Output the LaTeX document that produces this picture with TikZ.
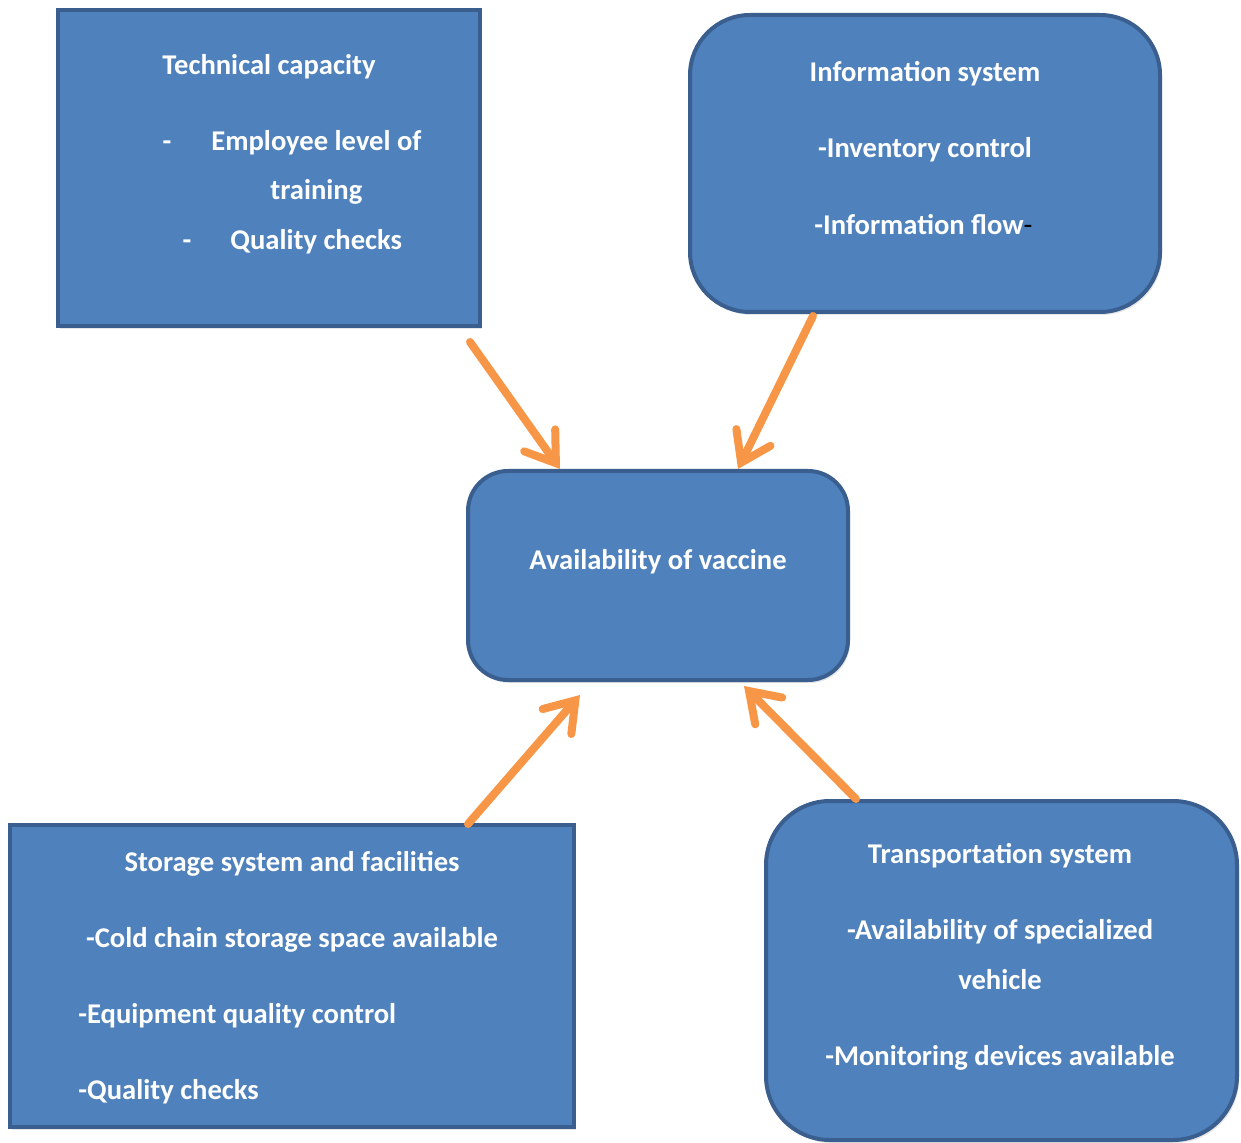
\documentclass[tikz,border=0pt]{standalone}
\usepackage{fontspec}
\setmainfont{Carlito}
\usetikzlibrary{arrows.meta,shadows}
\definecolor{boxfill}{HTML}{4F81BD}
\definecolor{boxline}{HTML}{3A5F8E}
\definecolor{arrowc}{HTML}{F79646}

\begin{document}
\begin{tikzpicture}[x=0.5pt,y=-0.5pt]
  \tikzstyle{box}=[draw=boxline,fill=boxfill,line width=2pt,inner sep=0pt,
    drop shadow={opacity=0.2,shadow xshift=1pt,shadow yshift=-1.5pt}]
  \tikzstyle{txt}=[text=white,font=\fontsize{14.3}{17}\selectfont\bfseries,inner sep=0pt]
  \tikzstyle{flow}=[draw=arrowc,line width=4pt,line cap=round,
    -{Straight Barb[length=14pt,width=19pt,line cap=round]}]
  \useasboundingbox (0,0) rectangle (1241,1143);

  % boxes
  \path (269,168) node[box,minimum width=211pt,minimum height=158pt] (tech) {};
  \path (925,163.5) node[box,rounded corners=30pt,minimum width=235pt,minimum height=148.5pt] (info) {};
  \path (658,575.5) node[box,rounded corners=20pt,minimum width=190pt,minimum height=104.5pt] (avail) {};
  \path (292,976) node[box,minimum width=282pt,minimum height=151pt] (store) {};
  \path (1001.5,970.5) node[box,rounded corners=32pt,minimum width=235.5pt,minimum height=169.5pt] (trans) {};

  % texts
  \path (269,75) node[txt,anchor=base] (techT) {Technical capacity};
  \path (167,151) node[txt,anchor=base] (techD1) {-};
  \path (211,151) node[txt,anchor=base west] (techA) {Employee level of};
  \path (270,200) node[txt,anchor=base west] (techB) {training};
  \path (187,250) node[txt,anchor=base] (techD2) {-};
  \path (230,250) node[txt,anchor=base west] (techC) {Quality checks};

  \path (925,82) node[txt,anchor=base] (infoT) {Information system};
  \path (925,158) node[txt,anchor=base] (infoA) {-Inventory control};
  \path (814,235) node[txt,anchor=base west] (infoB) {-Information flow{\color{black}\mdseries-}};

  \path (658,570) node[txt,anchor=base] (availT) {Availability of vaccine};

  \path (292,871) node[txt,anchor=base] (storeT) {Storage system and facilities};
  \path (292,947) node[txt,anchor=base] (storeA) {-Cold chain storage space available};
  \path (78,1023) node[txt,anchor=base west] (storeB) {-Equipment quality control};
  \path (78,1099) node[txt,anchor=base west] (storeC) {-Quality checks};

  \path (1000,863) node[txt,anchor=base] (transT) {Transportation system};
  \path (1000,939) node[txt,anchor=base] (transA) {-Availability of specialized};
  \path (1000,989) node[txt,anchor=base] (transB) {vehicle};
  \path (1000,1065) node[txt,anchor=base] (transC) {-Monitoring devices available};

  % arrow ends
  \coordinate (techOut) at ([shift={(-12,14)}]tech.south east);
  \coordinate (infoOut) at ([shift={(125,2)}]info.south west);
  \coordinate (storeOut) at ([shift={(460,1)}]store.north west);
  \coordinate (transOut) at ([shift={(92,0)}]trans.north west);
  \coordinate (inTech) at ([shift={(94,0)}]avail.north west);
  \coordinate (inInfo) at ([shift={(272,0)}]avail.north west);
  \coordinate (inStore) at ([shift={(114,13)}]avail.south west);
  \coordinate (inTrans) at ([shift={(278,4)}]avail.south west);

  \path[flow] (techOut) -- (inTech);
  \path[flow] (infoOut) -- (inInfo);
  \path[flow] (storeOut) -- (inStore);
  \path[flow] (transOut) -- (inTrans);
\end{tikzpicture}
\end{document}
